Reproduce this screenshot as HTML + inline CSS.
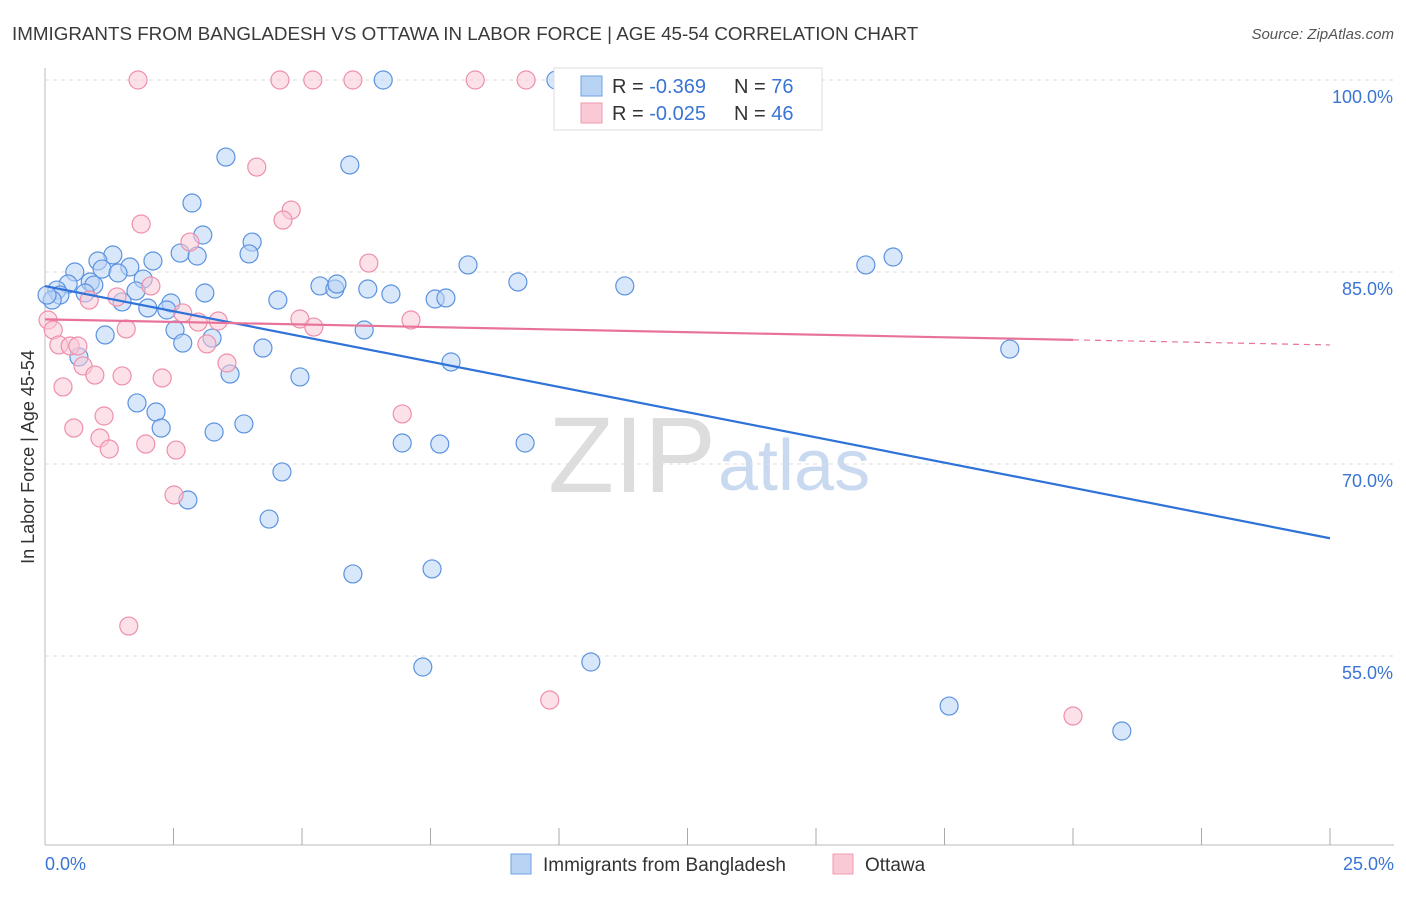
<!DOCTYPE html>
<html><head><meta charset="utf-8"><style>
body{margin:0;background:#fff;font-family:"Liberation Sans",sans-serif;}
svg text{font-family:"Liberation Sans",sans-serif;}
</style></head><body>
<svg id="chart" width="1406" height="892" xmlns="http://www.w3.org/2000/svg">
<text x="12" y="40" font-size="18.8" fill="#3a3a3a">IMMIGRANTS FROM BANGLADESH VS OTTAWA IN LABOR FORCE | AGE 45-54 CORRELATION CHART</text>
<text x="1394" y="39" font-size="15" fill="#555" text-anchor="end" font-style="italic">Source: ZipAtlas.com</text>
<text x="716" y="492" font-size="108" fill="#ddd" text-anchor="end" font-family="Liberation Serif">ZIP</text>
<text x="718" y="490" font-size="72" fill="#c9daf0">atlas</text>
<g id="grid"></g>
<g id="marks"></g>
<text transform="translate(34,457) rotate(-90)" font-size="18" fill="#333" text-anchor="middle">In Labor Force | Age 45-54</text>
<g>
<rect x="554" y="68" width="268" height="62" fill="#fff" stroke="#ddd"/>
<rect x="581" y="76" width="21" height="20" fill="#b9d3f5" stroke="#6fa0e6"/>
<rect x="581" y="103" width="21" height="20" fill="#f9c9d6" stroke="#ef9ab3"/>
<text x="612" y="93" font-size="20" fill="#333">R = <tspan fill="#3a74d4">-0.369</tspan></text>
<text x="734" y="93" font-size="20" fill="#333">N = <tspan fill="#3a74d4">76</tspan></text>
<text x="612" y="120" font-size="20" fill="#333">R = <tspan fill="#3a74d4">-0.025</tspan></text>
<text x="734" y="120" font-size="20" fill="#333">N = <tspan fill="#3a74d4">46</tspan></text>
</g>
<g>
<rect x="511" y="854" width="20" height="20" fill="#b9d3f5" stroke="#6fa0e6"/>
<text x="543" y="871" font-size="19" fill="#333">Immigrants from Bangladesh</text>
<rect x="833" y="854" width="20" height="20" fill="#f9c9d6" stroke="#ef9ab3"/>
<text x="865" y="871" font-size="19" fill="#333">Ottawa</text>
</g>
</svg>
<script>
const NS='http://www.w3.org/2000/svg';
const yTicks=[55,70,85,100];
const yTickLabels=['55.0%','70.0%','85.0%','100.0%'];
const xTickLabels=['0.0%','25.0%'];
const bluePx=[[383,80],[556,80],[226,157],[350,165],[192,203],[203,235],[252,242],[180,253],[197,256],[249,254],[113,255],[153,261],[98,261],[75,272],[102,269],[130,267],[118,273],[143,279],[90,282],[68,284],[94,285],[57,290],[60,295],[85,293],[136,291],[205,293],[278,300],[320,286],[335,289],[337,284],[368,289],[391,294],[435,299],[446,298],[518,282],[625,286],[468,265],[866,265],[893,257],[171,303],[167,310],[148,308],[122,302],[52,300],[47,295],[105,335],[175,330],[183,343],[212,338],[263,348],[364,330],[230,374],[300,377],[451,362],[79,357],[137,403],[156,412],[161,428],[214,432],[244,424],[402,443],[440,444],[525,443],[282,472],[188,500],[269,519],[353,574],[432,569],[423,667],[591,662],[949,706],[1122,731],[1010,349]];
const pinkPx=[[138,80],[280,80],[313,80],[353,80],[475,80],[526,80],[637,80],[257,167],[291,210],[283,220],[141,224],[190,242],[369,263],[151,286],[89,300],[117,297],[183,313],[198,322],[218,321],[300,319],[314,327],[411,320],[48,320],[53,330],[126,329],[59,345],[70,346],[78,346],[83,366],[207,344],[227,363],[95,375],[122,376],[162,378],[63,387],[104,416],[74,428],[100,438],[109,449],[146,444],[176,450],[402,414],[174,495],[129,626],[550,700],[1073,716]];
const blueX=bluePx.map(p=>+((p[0]-45)/1285*25).toFixed(2));
const blueY=bluePx.map(p=>+(100-(p[1]-80)/12.8).toFixed(2));
const pinkX=pinkPx.map(p=>+((p[0]-45)/1285*25).toFixed(2));
const pinkY=pinkPx.map(p=>+(100-(p[1]-80)/12.8).toFixed(2));
const blueTrend=[[0,83.9],[25,64.2]];
const pinkTrend=[[0,81.3],[20,79.7],[25,79.3]];
const sx=v=>45+v/25*1285, sy=v=>80+(100-v)*12.8;
const svg=document.getElementById('chart');
const grid=document.getElementById('grid'), marks=document.getElementById('marks');
function mk(tag,attrs,parent){const e=document.createElementNS(NS,tag);for(const k in attrs)e.setAttribute(k,attrs[k]);parent.appendChild(e);return e;}
let ax=mk('line',{x1:45,y1:68,x2:45,y2:845,stroke:'#bbb'},grid);


let bx=mk('line',{x1:45,y1:845,x2:1394,y2:845,stroke:'#bbb'},grid);


yTicks.forEach((t,i)=>{
 let g=mk('line',{x1:45,y1:sy(t),x2:1394,y2:sy(t),stroke:'#ddd','stroke-dasharray':'4,4'},grid);
 
 
 let l=mk('text',{x:1393,y:sy(t)+23,'font-size':18,fill:'#3a74d4','text-anchor':'end'},grid);l.textContent=yTickLabels[i];
 
 
});
for(let i=1;i<=10;i++){let x=45+i*128.5;let t=mk('line',{x1:x,y1:828,x2:x,y2:845,stroke:'#aaa'},grid);
 
 }
[[0,45,'start'],[1,1394,'end']].forEach(([i,x,a])=>{let l=mk('text',{x:x,y:870,'font-size':18,fill:'#3a74d4','text-anchor':a},grid);l.textContent=xTickLabels[i];
 
 });
function pts(X,Y,fill,stroke,name){X.forEach((x,i)=>{let c=mk('circle',{cx:sx(x),cy:sy(Y[i]),r:9,fill:fill,'fill-opacity':0.55,stroke:stroke,'stroke-width':1.2},marks);
 
 });}
pts(blueX,blueY,'#b9d3f5','#5b93e0','bangladesh-point');
pts(pinkX,pinkY,'#f9c9d6','#ef8fab','ottawa-point');
let bl=mk('line',{x1:sx(blueTrend[0][0]),y1:sy(blueTrend[0][1]),x2:sx(blueTrend[1][0]),y2:sy(blueTrend[1][1]),stroke:'#2f72d8','stroke-width':2.2},marks);


let pl=mk('line',{x1:sx(pinkTrend[0][0]),y1:sy(pinkTrend[0][1]),x2:sx(pinkTrend[1][0]),y2:sy(pinkTrend[1][1]),stroke:'#e8739a','stroke-width':2.2},marks);


let pd=mk('line',{x1:sx(pinkTrend[1][0]),y1:sy(pinkTrend[1][1]),x2:sx(pinkTrend[2][0]),y2:sy(pinkTrend[2][1]),stroke:'#e8739a','stroke-width':1.2,'stroke-dasharray':'6,5'},marks);


</script>
</body></html>
